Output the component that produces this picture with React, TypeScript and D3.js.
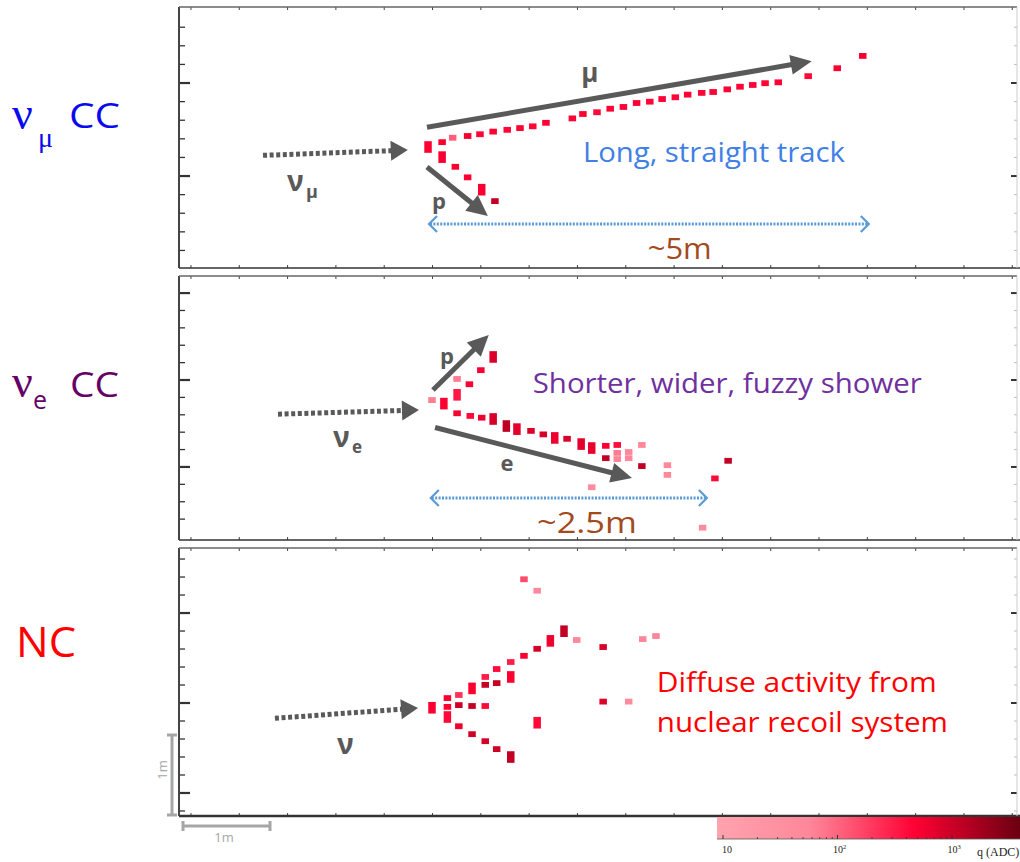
import React from "react";
import * as d3 from "d3";

// ---------------- data: hits, metres from each event display's bottom-left ----------------
// [x (m), y (m), charge q (ADC), cells tall]
type Hit = [number, number, number, number];

const numuMuonHits: Hit[] = [
  [2.83, 1.375, 480, 2], [2.99, 1.43, 520, 1], [3.11, 1.48, 110, 1], [3.28, 1.5, 560, 1],
  [3.42, 1.52, 450, 1], [3.57, 1.55, 470, 1], [3.73, 1.57, 430, 1], [3.875, 1.59, 460, 1],
  [4.02, 1.61, 440, 1], [4.17, 1.65, 470, 1], [4.47, 1.7, 450, 1], [4.59, 1.75, 480, 1],
  [4.75, 1.77, 430, 1], [4.9, 1.81, 460, 1], [5.05, 1.83, 450, 1], [5.2, 1.875, 500, 1],
  [5.35, 1.89, 440, 1], [5.49, 1.92, 470, 1], [5.64, 1.94, 450, 1], [5.78, 1.97, 460, 1],
  [5.94, 1.99, 440, 1], [6.07, 2.0, 470, 1], [6.23, 2.03, 450, 1], [6.375, 2.06, 460, 1],
  [6.52, 2.08, 440, 1], [6.66, 2.1, 450, 1], [6.81, 2.11, 470, 1], [7.15, 2.18, 420, 1],
  [7.48, 2.27, 480, 1], [7.77, 2.41, 560, 1],
];
const numuProtonHits: Hit[] = [
  [2.99, 1.26, 520, 2], [3.14, 1.15, 500, 1], [3.28, 1.03, 480, 1],
  [3.44, 0.89, 520, 2], [3.59, 0.76, 1100, 1],
];
const nueProtonHits: Hit[] = [
  [3.57, 2.08, 800, 2], [3.43, 1.93, 520, 1], [3.3, 1.77, 500, 1], [3.16, 1.83, 70, 1],
  [3.16, 1.65, 320, 2], [2.875, 1.59, 70, 1], [3.01, 1.55, 500, 2],
];
const nueShowerHits: Hit[] = [
  [3.16, 1.44, 520, 1], [3.31, 1.41, 420, 1], [3.44, 1.39, 620, 1], [3.57, 1.375, 850, 2],
  [3.72, 1.295, 1200, 2], [3.84, 1.26, 700, 2], [4.0, 1.24, 800, 1], [4.14, 1.2, 850, 1],
  [4.27, 1.16, 600, 2], [4.41, 1.15, 800, 1], [4.57, 1.09, 700, 2], [4.69, 1.045, 650, 2],
  [4.85, 1.07, 500, 1], [4.85, 0.93, 1150, 1], [4.98, 1.08, 400, 1], [4.98, 0.99, 70, 1],
  [4.98, 0.92, 60, 1], [5.11, 1.0, 55, 1], [5.11, 0.93, 55, 1], [5.26, 1.08, 55, 1],
  [5.26, 0.84, 1150, 1], [5.55, 0.85, 50, 1], [5.55, 0.74, 50, 1], [4.69, 0.6, 40, 1],
  [6.09, 0.7, 420, 1], [6.24, 0.9, 1150, 1], [5.95, 0.14, 40, 1],
];
const ncHits: Hit[] = [
  [3.92, 2.69, 150, 1], [4.07, 2.56, 50, 1], [2.875, 1.23, 500, 2], [3.05, 1.34, 500, 1],
  [3.05, 1.24, 480, 1], [3.05, 1.125, 420, 2], [3.18, 1.375, 220, 1], [3.18, 1.26, 1000, 1],
  [3.18, 1.02, 600, 1], [3.33, 1.45, 500, 2], [3.33, 1.25, 1100, 1], [3.33, 0.93, 950, 1],
  [3.48, 1.58, 300, 1], [3.48, 1.49, 1050, 1], [3.48, 1.25, 420, 1], [3.48, 0.85, 850, 1],
  [3.61, 1.67, 400, 1], [3.61, 1.51, 1100, 1], [3.61, 0.76, 950, 1], [3.77, 1.75, 300, 1],
  [3.77, 1.58, 500, 2], [3.77, 0.67, 1100, 2], [3.92, 1.82, 500, 1], [4.07, 1.9, 900, 1],
  [4.22, 1.99, 600, 2], [4.375, 2.1, 1100, 2], [4.52, 2.0, 50, 1], [4.82, 1.92, 850, 1],
  [5.27, 2.01, 60, 1], [5.42, 2.045, 60, 1], [4.82, 1.3, 750, 1], [5.11, 1.3, 40, 1],
  [4.07, 1.06, 420, 2],
];

// annotation arrows [x1, y1, x2, y2] in metres
const numuArrowsDotted = [[0.955, 1.28, 2.6, 1.34]];
const numuArrowsSolid = [[2.818, 1.6, 7.19, 2.35], [2.818, 1.148, 3.51, 0.59]];
const numuSpan = [2.83, 7.85, 0.5];
const nueArrowsDotted = [[1.125, 1.43, 2.727, 1.477]];
const nueArrowsSolid = [[2.886, 1.705, 3.52, 2.33], [2.91, 1.278, 5.148, 0.705]];
const nueSpan = [2.85, 6.01, 0.477];
const ncArrowsDotted = [[1.09, 1.11, 2.716, 1.227]];

// colour bar
const colorTicksMajor = [10, 100, 1000];
const colorTickLabels = ["10", "2", "3"];
const colorTicksMinor = [20, 30, 40, 50, 60, 70, 80, 90, 200, 300, 400, 500, 600, 700, 800, 900, 2000, 3000];

const LEFT = 179, RIGHT = 1017, PXM = 88;
const boxes = [
  { top: 7, bottom: 268, yMajor: 1.045, yStep: 0.2114 },
  { top: 276, bottom: 540, yMajor: 0.83, yStep: 0.1976 },
  { top: 548, bottom: 816, yMajor: 1.284, yStep: 0.2045 },
];

const qColor = d3
  .scaleLog<string>()
  .domain([9, 60, 480, 3900])
  .range(["#ffa3ae", "#ff8698", "#ff0033", "#6b0010"])
  .interpolate(d3.interpolateRgb)
  .clamp(true);

const GRAY = "#595959";

function scalesFor(b: { top: number; bottom: number }) {
  const w = RIGHT - LEFT, h = b.bottom - b.top;
  const x = d3.scaleLinear().domain([0, w / PXM]).range([0, w]);
  const y = d3.scaleLinear().domain([0, h / PXM]).range([h, 0]);
  return { x, y, w, h };
}

function Arrow({ p, sx, sy, dotted }: any) {
  const [a, b, c, d] = p;
  const x1 = sx(a), y1 = sy(b), x2 = sx(c), y2 = sy(d);
  const L = Math.hypot(x2 - x1, y2 - y1);
  const ux = (x2 - x1) / L, uy = (y2 - y1) / L;
  const head = dotted ? 17 : 21, hw = 10;
  const bx = x2 - ux * head, by = y2 - uy * head;
  const px = -uy, py = ux;
  return (
    <g>
      <line x1={x1} y1={y1} x2={bx + ux} y2={by + uy} stroke={GRAY} strokeWidth={5}
        strokeDasharray={dotted ? "4 2.6" : undefined} />
      <polygon points={`${x2},${y2} ${bx + px * hw},${by + py * hw} ${bx - px * hw},${by - py * hw}`} fill={GRAY} />
    </g>
  );
}

function Span({ s, sx, sy }: any) {
  const [a, b, yy] = s;
  const x1 = sx(a), x2 = sx(b), y = sy(yy);
  const c = "#5b9bd5";
  return (
    <g fill="none" stroke={c}>
      <line x1={x1 + 2} y1={y} x2={x2 - 2} y2={y} strokeWidth={3} strokeDasharray="2 1.4" />
      <polyline points={`${x1 + 9},${y - 8} ${x1 + 1},${y} ${x1 + 9},${y + 8}`} strokeWidth={2.2} />
      <polyline points={`${x2 - 9},${y - 8} ${x2 - 1},${y} ${x2 - 9},${y + 8}`} strokeWidth={2.2} />
    </g>
  );
}

function Hits({ hits, sx, sy }: any) {
  const cw = 7.5, ch = 5.8;
  return (
    <g>
      {hits.map((h: Hit, i: number) => (
        <rect key={i} x={sx(h[0]) - cw / 2} y={sy(h[1]) - (ch * h[3]) / 2} width={cw} height={ch * h[3]} fill={qColor(h[2])} />
      ))}
    </g>
  );
}

function Frame({ b, sc, thickBottom }: any) {
  const { x, y, w, h } = sc;
  const ymax = h / PXM;
  const yt = d3.range(-20, 20).map((i) => b.yMajor + i * b.yStep).filter((v) => v > 0.04 && v < ymax - 0.04);
  const isMajor = (v: number) => {
    const k = Math.round((v - b.yMajor) / b.yStep);
    return k % 5 === 0;
  };
  const xt = d3.range(0, 20).map((i) => 0.136 + i * 0.549).filter((v) => v < w / PXM);
  return (
    <g>
      {yt.map((v, i) => (
        <g key={i}>
          <line x1={0} x2={isMajor(v) ? 11 : 6} y1={y(v)} y2={y(v)} stroke="#333" strokeWidth={isMajor(v) ? 2.2 : 1.3} />
          <line x1={w} x2={w - (isMajor(v) ? 6 : 3)} y1={y(v)} y2={y(v)} stroke={isMajor(v) ? "#333" : "#bbb"} strokeWidth={isMajor(v) ? 2 : 1} />
        </g>
      ))}
      {xt.map((v, i) => (
        <g key={i}>
          <line x1={x(v)} x2={x(v)} y1={0} y2={3} stroke="#444" strokeWidth={1} />
          <line x1={x(v)} x2={x(v)} y1={h} y2={h - 3} stroke="#444" strokeWidth={1} />
        </g>
      ))}
      <line x1={0} x2={0} y1={0} y2={h} stroke="#444" strokeWidth={2} />
      <line x1={0} x2={w} y1={0} y2={0} stroke="#666" strokeWidth={1.3} />
      <line x1={0} x2={w + 5} y1={h} y2={h} stroke="#333" strokeWidth={thickBottom ? 2.6 : 1.5} />
      <line x1={w} x2={w} y1={0} y2={h} stroke="#ccc" strokeWidth={1} />
    </g>
  );
}

const txtSans = "'Open Sans', 'DejaVu Sans', sans-serif";
const txtSerif = "'Liberation Serif', 'DejaVu Serif', serif";

export default function App() {
  const s1 = scalesFor(boxes[0]);
  const s2 = scalesFor(boxes[1]);
  const s3 = scalesFor(boxes[2]);

  const cb = d3.scaleLog().domain([10, 1000]).range([723, 952]);
  const cbX0 = 717, cbX1 = 1020, cbY0 = 817, cbY1 = 839;
  const stops = d3.range(0, 21).map((i) => {
    const t = i / 20;
    return { off: t, col: qColor(cb.invert(cbX0 + t * (cbX1 - cbX0))) };
  });

  return (
    <svg width={1020} height={862} style={{ position: "absolute", left: 0, top: 0, background: "#fff" }}
      fontFamily={txtSans}>
      <defs>
        <linearGradient id="cbg" x1="0" x2="1" y1="0" y2="0">
          {stops.map((s, i) => (
            <stop key={i} offset={s.off} stopColor={s.col} />
          ))}
        </linearGradient>
      </defs>
      <rect x={0} y={0} width={1020} height={862} fill="#fff" />

      {/* category labels */}
      <g fill="#0a0af0">
        <text x={12} y={129} fontFamily={txtSerif} fontSize={46}>ν</text>
        <text x={38} y={147} fontFamily={txtSerif} fontSize={28}>μ</text>
        <text x={69} y={128} fontSize={34} textLength={51} lengthAdjust="spacingAndGlyphs">CC</text>
      </g>
      <g fill="#660066">
        <text x={12} y={397} fontFamily={txtSerif} fontSize={46}>ν</text>
        <text x={33} y={409} fontSize={25}>e</text>
        <text x={70} y={397} fontSize={34} textLength={49} lengthAdjust="spacingAndGlyphs">CC</text>
      </g>
      <text x={16} y={657} fill="#ff0000" fontSize={42} textLength={60} lengthAdjust="spacingAndGlyphs">NC</text>

      {/* panel 1: numu CC */}
      <g transform={`translate(${LEFT},${boxes[0].top})`}>
        <Frame b={boxes[0]} sc={s1} />
        <Hits hits={numuMuonHits} sx={s1.x} sy={s1.y} />
        <Hits hits={numuProtonHits} sx={s1.x} sy={s1.y} />
        {numuArrowsDotted.map((p, i) => <Arrow key={i} p={p} sx={s1.x} sy={s1.y} dotted />)}
        {numuArrowsSolid.map((p, i) => <Arrow key={i} p={p} sx={s1.x} sy={s1.y} />)}
        <Span s={numuSpan} sx={s1.x} sy={s1.y} />
        <g fill={GRAY} fontWeight="bold">
          <text x={s1.x(1.227)} y={s1.y(0.875)} fontSize={28}>ν</text>
          <text x={s1.x(1.227) + 19} y={s1.y(0.875) + 7} fontSize={18}>μ</text>
          <text x={s1.x(4.67)} y={s1.y(2.11)} fontSize={26} textAnchor="middle">μ</text>
          <text x={s1.x(2.955)} y={s1.y(0.67)} fontSize={22} textAnchor="middle">p</text>
        </g>
        <text x={s1.x(4.59)} y={s1.y(1.205)} fontSize={27} fill="#3f7fe6" textLength={262} lengthAdjust="spacingAndGlyphs">Long, straight track</text>
        <text x={s1.x(5.69)} y={s1.y(0.1)} fontSize={30} fill="#a34a1e" textAnchor="middle" textLength={64} lengthAdjust="spacingAndGlyphs">~5m</text>
      </g>

      {/* panel 2: nue CC */}
      <g transform={`translate(${LEFT},${boxes[1].top})`}>
        <Frame b={boxes[1]} sc={s2} />
        <Hits hits={nueProtonHits} sx={s2.x} sy={s2.y} />
        <Hits hits={nueShowerHits} sx={s2.x} sy={s2.y} />
        {nueArrowsDotted.map((p, i) => <Arrow key={i} p={p} sx={s2.x} sy={s2.y} dotted />)}
        {nueArrowsSolid.map((p, i) => <Arrow key={i} p={p} sx={s2.x} sy={s2.y} />)}
        <Span s={nueSpan} sx={s2.x} sy={s2.y} />
        <g fill={GRAY} fontWeight="bold">
          <text x={s2.x(1.75)} y={s2.y(1.057)} fontSize={28}>ν</text>
          <text x={s2.x(1.75) + 19} y={s2.y(1.057) + 6} fontSize={17}>e</text>
          <text x={s2.x(3.045)} y={s2.y(2.0)} fontSize={22} textAnchor="middle">p</text>
          <text x={s2.x(3.727)} y={s2.y(0.784)} fontSize={22} textAnchor="middle">e</text>
        </g>
        <text x={s2.x(4.02)} y={s2.y(1.67)} fontSize={27} fill="#7030a0" textLength={389} lengthAdjust="spacingAndGlyphs">Shorter, wider, fuzzy shower</text>
        <text x={s2.x(4.636)} y={s2.y(0.08)} fontSize={30} fill="#a34a1e" textAnchor="middle" textLength={100} lengthAdjust="spacingAndGlyphs">~2.5m</text>
      </g>

      {/* panel 3: NC */}
      <g transform={`translate(${LEFT},${boxes[2].top})`}>
        <Frame b={boxes[2]} sc={s3} thickBottom />
        <Hits hits={ncHits} sx={s3.x} sy={s3.y} />
        {ncArrowsDotted.map((p, i) => <Arrow key={i} p={p} sx={s3.x} sy={s3.y} dotted />)}
        <g fill={GRAY} fontWeight="bold">
          <text x={s3.x(1.795)} y={s3.y(0.705)} fontSize={28}>ν</text>
        </g>
        <text x={s3.x(5.43)} y={s3.y(1.41)} fontSize={28} fill="#ff0000" textLength={280} lengthAdjust="spacingAndGlyphs">Diffuse activity from</text>
        <text x={s3.x(5.43)} y={s3.y(0.955)} fontSize={28} fill="#ff0000" textLength={291} lengthAdjust="spacingAndGlyphs">nuclear recoil system</text>
      </g>

      {/* 1 m scale bars */}
      <g stroke="#a6a6a6" strokeWidth={3} fill="none">
        <line x1={172} x2={172} y1={735} y2={815} />
        <line x1={167} x2={177} y1={735} y2={735} />
        <line x1={167} x2={177} y1={815} y2={815} />
        <line x1={183} x2={270} y1={826} y2={826} />
        <line x1={183} x2={183} y1={821} y2={831} />
        <line x1={270} x2={270} y1={821} y2={831} />
      </g>
      <text x={224} y={842} fontSize={13} fill="#a6a6a6" textAnchor="middle">1m</text>
      <text transform="translate(167,770) rotate(-90)" fontSize={13} fill="#a6a6a6" textAnchor="middle">1m</text>

      {/* colour bar */}
      <rect x={cbX0} y={cbY0} width={cbX1 - cbX0} height={cbY1 - cbY0} fill="url(#cbg)" />
      <line x1={cbX0} x2={cbX1} y1={cbY1} y2={cbY1} stroke="#555" strokeWidth={0.8} />
      {colorTicksMinor.map((v, i) => (
        <line key={i} x1={cb(v)} x2={cb(v)} y1={cbY1} y2={cbY1 - 2} stroke="#333" strokeWidth={0.8} />
      ))}
      {colorTicksMajor.map((v, i) => (
        <g key={i}>
          <line x1={cb(v)} x2={cb(v)} y1={cbY1} y2={cbY1 - 4} stroke="#333" strokeWidth={1} />
          <text x={cb(v) + (i === 0 ? 4 : 2)} y={853} fontFamily={txtSerif} fontSize={10} fill="#222" textAnchor="middle">
            {i === 0 ? colorTickLabels[0] : "10"}
            {i > 0 && <tspan dy={-4} fontSize={6.5}>{colorTickLabels[i]}</tspan>}
          </text>
        </g>
      ))}
      <text x={977} y={856} fontFamily={txtSerif} fontSize={12} fill="#222">q (ADC)</text>
    </svg>
  );
}
